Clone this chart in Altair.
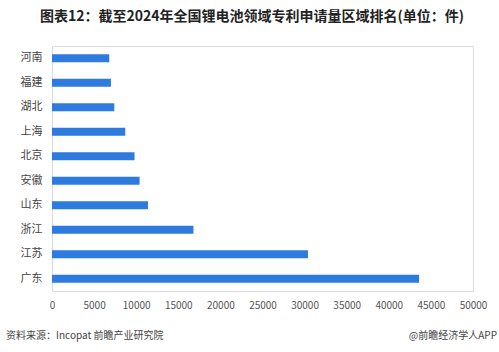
import altair as alt
import pandas as pd

regions = ["河南", "福建", "湖北", "上海", "北京", "安徽", "山东", "浙江", "江苏", "广东"]
counts = [6800, 7000, 7400, 8700, 9800, 10400, 11400, 16800, 30400, 43600]
x_ticks = [0, 5000, 10000, 15000, 20000, 25000, 30000, 35000, 40000, 45000, 50000]

title_text = "图表12：截至2024年全国锂电池领域专利申请量区域排名(单位：件)"
source_text = "资料来源：Incopat 前瞻产业研究院"
brand_text = "@前瞻经济学人APP"

df = pd.DataFrame({"region": regions, "count": counts})
FONT = "Noto Sans CJK SC"

bars = alt.Chart(df).mark_bar(color="#2e7be0", size=8).encode(
    x=alt.X("count:Q",
            scale=alt.Scale(domain=[0, 50000], nice=False),
            axis=alt.Axis(values=x_ticks, title=None, grid=False, domain=False,
                          ticks=False, labelFont=FONT, labelFontSize=10,
                          labelColor="#555555", labelPadding=9, format="d",
                          labelFlush=False, labelOverlap=False)),
    y=alt.Y("region:N", sort=regions,
            scale=alt.Scale(paddingInner=0, paddingOuter=0),
            axis=alt.Axis(title=None, ticks=False, domainColor="#d9d9d9",
                          labelFont=FONT, labelFontSize=11, labelColor="#444444",
                          labelPadding=10)),
)

src = alt.Chart(pd.DataFrame({"t": [source_text]})).mark_text(
    font=FONT, fontSize=10, color="#444444", align="left", baseline="middle"
).encode(text="t:N", x=alt.value(-46), y=alt.value(290))

brand = alt.Chart(pd.DataFrame({"t": [brand_text]})).mark_text(
    font=FONT, fontSize=10, color="#444444", align="right", baseline="middle"
).encode(text="t:N", x=alt.value(445), y=alt.value(290))

chart = alt.layer(bars, src, brand).properties(
    width=421, height=245,
    autosize=alt.AutoSizeParams(type="none"),
    padding={"left": 52, "top": 46, "right": 26, "bottom": 61},
    title=alt.TitleParams(title_text, font=FONT, fontSize=14, fontWeight="bold",
                          color="#222222", anchor="start", frame="group",
                          dx=-12, offset=22),
).configure_view(stroke=None).configure(background="white")

chart.save("out.html", embed_options={"renderer": "svg", "actions": False})
